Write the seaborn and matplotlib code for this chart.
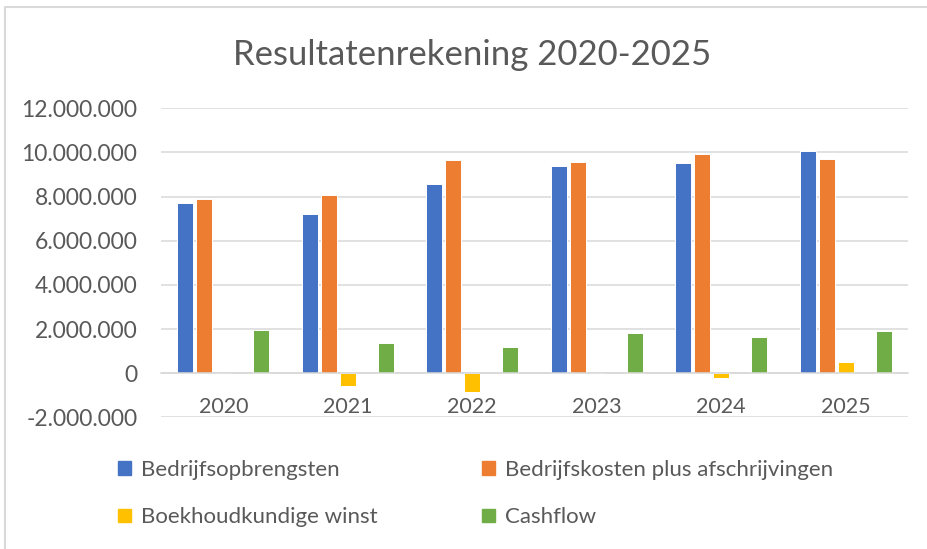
import seaborn as sns
import matplotlib.pyplot as plt
import pandas as pd
import matplotlib.patches as mpatches
from matplotlib.lines import Line2D
from matplotlib.ticker import FuncFormatter, MultipleLocator

jaren = ['2020', '2021', '2022', '2023', '2024', '2025']
opbrengsten = [7730000, 7230000, 8550000, 9390000, 9510000, 10050000]
kosten = [7880000, 8060000, 9680000, 9560000, 9920000, 9700000]
winst = [0, -580000, -860000, 0, -200000, 510000]
cashflow = [1940000, 1360000, 1180000, 1830000, 1650000, 1890000]

reeksen = ['Bedrijfsopbrengsten', 'Bedrijfskosten plus afschrijvingen',
           'Boekhoudkundige winst', 'Cashflow']
kleuren = ['#4472C4', '#ED7D31', '#FFC000', '#70AD47']

rows = []
for naam, waarden in zip(reeksen, [opbrengsten, kosten, winst, cashflow]):
    for jaar, w in zip(jaren, waarden):
        rows.append({'Jaar': jaar, 'Reeks': naam, 'Waarde': w})
df = pd.DataFrame(rows)

sns.set_style("white")
plt.rcParams['font.family'] = ['Lato', 'DejaVu Sans']
grijs = '#595959'

fig = plt.figure(figsize=(9.28, 5.49), dpi=100)
ax = fig.add_axes([161 / 928, 1 - 417.3 / 549, 747 / 928, 309 / 549])

# empty 4th slot between yellow and green, like the excel chart
volgorde = reeksen[:3] + ['_leeg'] + reeksen[3:]
palet = dict(zip(reeksen, kleuren))
palet['_leeg'] = '#ffffff'

sns.barplot(data=df, x='Jaar', y='Waarde', hue='Reeks', hue_order=volgorde,
            palette=palet, saturation=1, width=0.763, gap=0.18, legend=False,
            edgecolor='white', linewidth=0.7, ax=ax)

ax.set_ylim(-2000000, 12000000)
ax.yaxis.set_major_locator(MultipleLocator(2000000))
ax.yaxis.set_major_formatter(FuncFormatter(lambda v, p: f"{int(v):,}".replace(",", ".")))
ax.set_xlim(-0.5, 5.5)
ax.set_xlabel('')
ax.set_ylabel('')
ax.set_axisbelow(True)
ax.grid(axis='y', color='#d9d9d9', linewidth=1.1)
ax.grid(axis='x', visible=False)
for s in ['top', 'right', 'left']:
    ax.spines[s].set_visible(False)
ax.spines['bottom'].set_position(('data', 0))
ax.spines['bottom'].set_color('#d9d9d9')
ax.spines['bottom'].set_linewidth(1.1)
ax.tick_params(axis='x', length=0, pad=17, labelsize=15.5, labelcolor=grijs)
ax.tick_params(axis='y', length=0, pad=17, labelsize=16.5, labelcolor=grijs)

fig.text(472 / 928, 1 - 65 / 549, 'Resultatenrekening 2020-2025',
         ha='center', va='baseline', fontsize=25, color=grijs)

handles = [mpatches.Patch(color=c, label=n) for n, c in zip(reeksen, kleuren)]
handles = [handles[0], handles[2], handles[1], handles[3]]
fig.legend(handles=handles, loc='upper left', bbox_to_anchor=(118 / 928, 1 - 460 / 549),
           ncol=2, frameon=False, fontsize=16, labelcolor=grijs,
           handlelength=0.585, handleheight=0.585, handletextpad=0.45,
           columnspacing=4.7, labelspacing=1.23, borderpad=0, borderaxespad=0)

# light grey chart border (left and top)
fig.add_artist(Line2D([5 / 928, 5 / 928, 1], [0, 1 - 7 / 549, 1 - 7 / 549],
                      transform=fig.transFigure, color='#d9d9d9', linewidth=1.5))

fig.savefig('out.png', dpi=100)
